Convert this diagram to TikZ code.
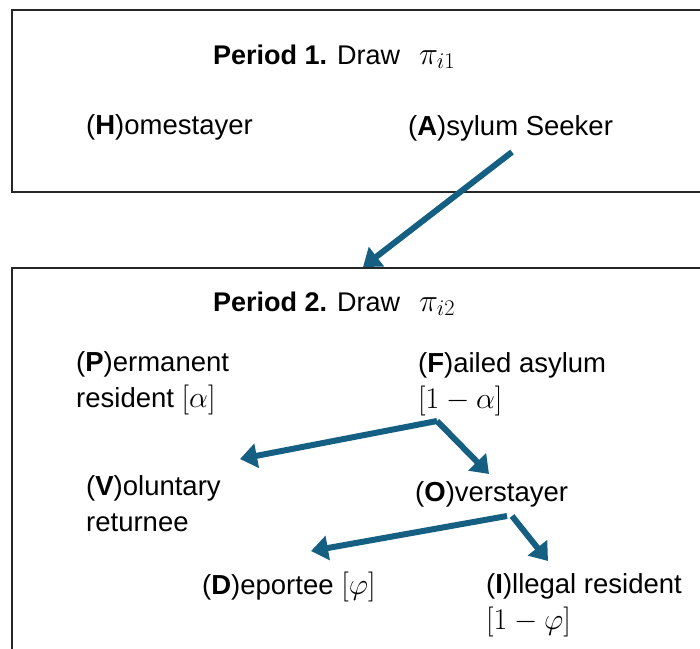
\RequirePackage{fix-cm}
\documentclass[tikz,border=0pt]{standalone}
\usepackage{fontspec}
\setmainfont{Liberation Sans}
\usetikzlibrary{arrows.meta}
\definecolor{flowblue}{HTML}{156082}
\newcommand{\mth}[1]{{\fontsize{30}{36}\selectfont$#1$}}
\tikzset{
  panel/.style={draw=black!85, line width=1.8pt},
  flow/.style={draw=flowblue, line width=6pt, -{Triangle[length=17pt,width=24pt]}},
  state/.style={anchor=base west, inner sep=0pt, align=left, font=\fontsize{27.5}{36}\selectfont},
  title/.style={anchor=base west, inner sep=0pt, font=\fontsize{27}{36}\selectfont},
}

\begin{document}
\begin{tikzpicture}[x=1pt, y=-1pt]
		%%%%% START %%%%%
		\useasboundingbox (0, 0) rectangle (700, 648);
		\clip (0, 0) rectangle (700, 648);
		
		\draw[panel] (12, 10) rectangle (730, 192);
		\draw[panel] (12, 268) rectangle (730, 700);
		
		% period 1
		\node[title] (p1) at (213, 64) {\textbf{Period 1.} Draw\hspace{0.7em}{\fontsize{32}{36}\selectfont$\pi_{i1}$}};
		\node[state] (H) at (86, 134) {(\textbf{H})omestayer};
		\node[state] (A) at (408, 135) {(\textbf{A})sylum Seeker};
		
		% period 2 (two-line nodes sit on their last line)
		\node[title] (p2) at (213, 311) {\textbf{Period 2.} Draw\hspace{0.7em}{\fontsize{32}{36}\selectfont$\pi_{i2}$}};
		\node[state] (P) at (76, 407) {(\textbf{P})ermanent\\resident \mth{[\alpha]}};
		\node[state] (F) at (418, 408) {(\textbf{F})ailed asylum\\\mth{[1-\alpha]}};
		\node[state] (V) at (86, 531) {(\textbf{V})oluntary\\returnee};
		\node[state] (O) at (415, 501) {(\textbf{O})verstayer};
		\node[state] (D) at (202, 594) {(\textbf{D})eportee \mth{[\varphi]}};
		\node[state] (I) at (486, 629) {(\textbf{I})llegal resident\\\mth{[1-\varphi]}};
		
		% branch points and arrow ends
		\coordinate (aOut) at (512, 152);
		\coordinate (p2In) at (363, 267);
		\coordinate (fOut) at (437, 421);
		\coordinate (vIn) at (240, 459);
		\coordinate (oIn) at (489, 474);
		\coordinate (oOutL) at (507, 516);
		\coordinate (oOutR) at (512, 516);
		\coordinate (dIn) at (311, 551);
		\coordinate (iIn) at (548, 561);
		
		\draw[flow] (aOut) -- (p2In);
		\draw[flow] (fOut) -- (vIn);
		\draw[flow] (fOut) -- (oIn);
		\draw[flow] (oOutL) -- (dIn);
		\draw[flow] (oOutR) -- (iIn);
		%%%%% END %%%%%
\end{tikzpicture}
\end{document}
